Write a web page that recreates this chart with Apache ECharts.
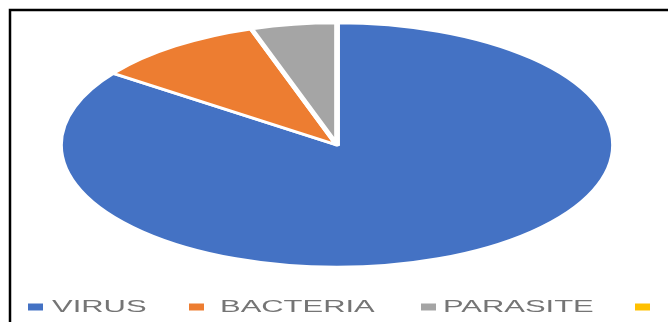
<!DOCTYPE html>
<html>
<head>
<meta charset="utf-8">
<script src="https://cdn.jsdelivr.net/npm/echarts@6/dist/echarts.min.js"></script>
<style>
  html, body { margin: 0; padding: 0; background: #fff; }
  #chart { width: 668px; height: 322px; }
</style>
</head>
<body>
<div id="chart"></div>
<script>
// Infection causes
const categories = ['VIRUS', 'BACTERIA', 'PARASITE', ''];
const shares = [85, 10, 5, 0];
const colors = ['#4472C4', '#ED7D31', '#A5A5A5', '#FFC000'];

// Ellipse geometry of the pie and legend layout
const PIE = { cx: 337, cy: 145, rx: 277, ry: 122 };
const LEGEND_Y = 307;
const legendMarkerX = [28, 189, 421, 635];
const legendTextX = [52, 220, 443, 0];
const TEXT_STRETCH = 1.82;

const total = shares.reduce((a, b) => a + b, 0);
const starts = [];
let acc = 0;
shares.forEach(v => { starts.push(acc); acc += v; });

const chart = echarts.init(document.getElementById('chart'), null, { renderer: 'canvas' });

const legendGraphics = [];
categories.forEach((name, i) => {
  legendGraphics.push({
    type: 'rect',
    shape: { x: legendMarkerX[i], y: LEGEND_Y - 3.5, width: 15, height: 7 },
    style: { fill: colors[i] },
    silent: true
  });
  if (name) {
    legendGraphics.push({
      type: 'text',
      x: legendTextX[i],
      y: LEGEND_Y,
      scaleX: TEXT_STRETCH,
      style: {
        text: name,
        fill: '#757575',
        font: '17px "Liberation Sans", Arial, sans-serif',
        verticalAlign: 'middle',
        align: 'left'
      },
      silent: true
    });
  }
});

chart.setOption({
  animation: false,
  backgroundColor: '#ffffff',
  series: [{
    type: 'custom',
    coordinateSystem: 'none',
    data: shares.map((v, i) => ({ name: categories[i], value: [v, starts[i]] })),
    renderItem: function (params, api) {
      const v = api.value(0);
      if (!v) return null;
      const s = api.value(1);
      const a0 = -Math.PI / 2 + (s / total) * Math.PI * 2;
      const a1 = -Math.PI / 2 + ((s + v) / total) * Math.PI * 2;
      return {
        type: 'sector',
        x: PIE.cx,
        y: PIE.cy,
        scaleX: PIE.rx / PIE.ry,
        scaleY: 1,
        shape: { cx: 0, cy: 0, r0: 0, r: PIE.ry, startAngle: a0, endAngle: a1, clockwise: true },
        style: {
          fill: colors[params.dataIndex],
          stroke: '#ffffff',
          lineWidth: 2.5,
          lineJoin: 'round',
          strokeNoScale: true
        }
      };
    }
  }],
  graphic: [
    {
      type: 'polyline',
      shape: { points: [[10, 322], [10, 10], [668, 10]] },
      style: { stroke: '#000000', lineWidth: 2.5, fill: null },
      silent: true
    }
  ].concat(legendGraphics)
});
</script>
</body>
</html>
